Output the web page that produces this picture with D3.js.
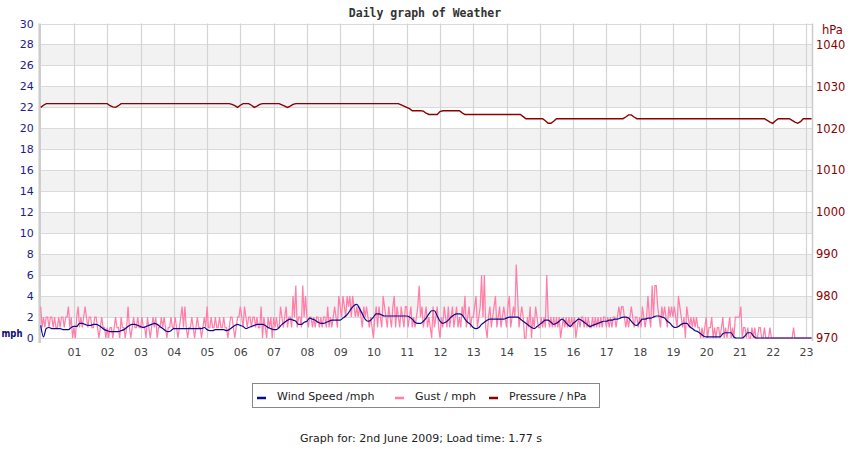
<!DOCTYPE html>
<html>
<head>
<meta charset="utf-8">
<script src="https://cdn.jsdelivr.net/npm/d3@7"></script>
<style>
  body { margin: 0; background: #fff; }
  svg text { font-family: "DejaVu Sans", sans-serif; }
</style>
</head>
<body>
<div id="chart"></div>
<script>
// hour labels along the bottom
const hourLabels = ["01","02","03","04","05","06","07","08","09","10","11","12",
  "13","14","15","16","17","18","19","20","21","22","23"];
const mphTicks = [0, 2, 4, 6, 8, 10, 12, 14, 16, 18, 20, 22, 24, 26, 28, 30];
const hpaTicks = [970, 980, 990, 1000, 1010, 1020, 1030, 1040];
const stepMinutes = 5;      // wind speed + pressure: one reading every 5 min from 00:00
const gustStepMinutes = 2.5; // gusts are logged more often

// wind speed (mph), one row per hour
const windSpeed = [
  1.2,0.1,0.9,1.0,0.9,0.9,0.9,0.9,0.8,0.8,0.8,1.0,
  1.1,1.1,1.4,1.4,1.3,1.2,1.2,1.3,1.3,1.2,1.0,0.8,
  0.7,0.6,0.6,0.6,0.6,0.7,0.8,1.0,1.2,1.3,1.3,1.2,
  1.1,1.0,1.1,1.2,1.3,1.4,1.3,1.1,0.9,0.7,0.6,0.7,
  0.9,0.9,0.9,0.9,0.9,0.9,0.9,0.9,0.9,0.9,0.9,1.0,
  0.8,0.7,0.7,0.8,0.8,0.8,0.8,0.7,0.8,1.0,1.2,1.3,
  1.2,1.1,0.9,1.0,1.1,1.2,1.3,1.3,1.3,1.2,1.0,0.9,
  0.8,0.8,1.0,1.3,1.5,1.7,1.8,1.7,1.6,1.3,1.3,1.5,
  1.6,1.9,1.8,1.7,1.5,1.4,1.4,1.5,1.6,1.7,1.7,1.7,
  1.7,1.9,2.1,2.4,2.8,3.1,3.2,2.8,2.3,1.8,1.6,1.7,
  2.0,2.3,2.3,2.2,2.1,2.1,2.1,2.1,2.1,2.1,2.1,2.1,
  2.1,2.0,1.8,1.5,1.4,1.4,1.6,1.9,2.3,2.6,2.6,2.1,
  1.6,1.4,1.5,1.7,2.0,2.2,2.3,2.3,2.2,1.8,1.5,1.3,
  1.0,0.9,1.0,1.3,1.5,1.7,1.8,1.8,1.8,1.8,1.8,1.8,
  1.9,2.0,2.0,2.0,2.0,1.8,1.6,1.4,1.2,1.0,0.9,1.1,
  1.3,1.5,1.7,1.7,1.5,1.3,1.4,1.6,1.8,1.6,1.3,1.1,
  1.4,1.6,1.8,1.7,1.5,1.3,1.1,1.2,1.3,1.4,1.5,1.6,
  1.6,1.7,1.7,1.8,1.8,1.9,2.0,2.0,1.9,1.6,1.3,1.2,
  1.5,1.8,1.8,1.9,1.9,2.0,2.1,2.1,2.0,1.9,1.6,1.4,
  1.1,1.0,1.1,1.3,1.4,1.4,1.1,0.9,0.7,0.6,0.4,0.2,
  0.1,0.1,0.1,0.1,0.1,0.1,0.4,0.5,0.5,0.5,0.1,0.0,
  0.0,0.0,0.2,0.5,0.5,0.2,0.0,0.0,0.0,0.0,0.0,0.0,
  0.0,0.0,0.0,0.0,0.0,0.0,0.0,0.0,0.0,0.0,0.0,0.0,
  0.0,0.0,0.0
];

// gusts (mph), 24 readings per hour
const gust = [
  3,1,2,1,2,2,1,2,2,1,2,1,1,2,1,2,2,1,2,2,3,1,2,0,
  1,0,2,3,1,2,1,2,3,2,1,2,2,1,1,2,2,1,0,1,2,1,1,0,
  1,0,1,1,0,1,2,1,1,0,2,1,1,0,1,3,1,0,1,2,1,1,2,1,
  1,2,1,1,0,2,1,0,1,2,1,2,0,1,1,2,1,2,1,0,1,1,2,1,
  1,2,1,0,1,2,3,1,3,1,0,1,1,2,1,0,1,2,1,1,0,1,2,1,
  3,1,1,2,1,1,2,1,1,2,1,1,2,1,1,0,1,2,2,1,0,1,2,2,
  3,2,1,3,2,1,2,2,1,2,2,1,2,1,1,3,0,2,1,0,2,1,2,0,
  2,1,2,1,1,3,2,1,2,3,1,2,2,1,4,2,5,1,2,2,1,5,2,4,
  2,1,2,2,1,2,1,2,2,1,2,1,2,2,1,3,1,2,1,2,3,2,1,4,
  3,2,4,3,2,4,3,4,2,4,3,2,3,2,3,2,1,3,2,3,2,1,2,1,
  0,2,3,1,3,2,1,4,3,2,1,3,2,1,3,4,1,3,2,1,3,2,1,3,
  3,1,2,3,1,2,1,2,3,5,2,3,1,2,3,1,2,1,0,3,1,2,3,1,
  0,2,1,3,2,1,3,1,2,3,1,2,3,1,2,1,3,2,4,1,2,3,1,2,
  2,3,4,1,2,3,6,2,6,1,0,2,3,1,2,3,4,1,2,3,1,2,3,2,
  1,3,4,1,2,3,2,7,4,1,2,3,2,0,0,2,1,3,0,2,1,3,2,1,
  1,2,1,2,1,6,2,1,2,1,2,1,2,1,2,0,1,2,1,2,1,2,1,2,
  1,2,0,1,2,1,2,2,1,2,1,2,1,1,2,1,2,1,2,1,2,1,2,2,
  1,2,1,2,1,2,2,1,2,3,2,3,3,2,1,2,1,2,3,2,1,2,2,1,
  2,1,3,2,1,2,4,2,1,5,2,5,5,3,2,1,3,2,3,2,1,3,2,3,
  2,3,2,1,4,3,2,1,2,0,3,2,1,2,1,2,1,2,1,1,0,1,0,1,
  2,0,1,1,2,0,1,0,1,1,0,1,2,0,1,0,1,2,0,1,0,2,2,2,
  2,3,0,1,1,0,1,0,0,1,0,1,0,0,1,1,0,0,1,0,0,0,1,0,
  0,0,0,0,0,0,0,0,0,0,0,0,0,0,0,1,0,0,0,0,0,0,0,0,
  0,0,0,0,0
];

// pressure (hPa)
const pressure = [
  1025.0,1025.5,1025.9,1025.9,1025.9,1025.9,1025.9,1025.9,1025.9,1025.9,1025.9,1025.9,
  1025.9,1025.9,1025.9,1025.9,1025.9,1025.9,1025.9,1025.9,1025.9,1025.9,1025.9,1025.9,
  1025.9,1025.4,1025.1,1025.0,1025.4,1025.9,1025.9,1025.9,1025.9,1025.9,1025.9,1025.9,
  1025.9,1025.9,1025.9,1025.9,1025.9,1025.9,1025.9,1025.9,1025.9,1025.9,1025.9,1025.9,
  1025.9,1025.9,1025.9,1025.9,1025.9,1025.9,1025.9,1025.9,1025.9,1025.9,1025.9,1025.9,
  1025.9,1025.9,1025.9,1025.9,1025.9,1025.9,1025.9,1025.9,1025.9,1025.7,1025.4,1025.0,
  1025.5,1025.9,1025.9,1025.9,1025.5,1025.0,1025.3,1025.7,1025.9,1025.9,1025.9,1025.9,
  1025.9,1025.9,1025.9,1025.6,1025.3,1025.0,1025.3,1025.7,1025.9,1025.9,1025.9,1025.9,
  1025.9,1025.9,1025.9,1025.9,1025.9,1025.9,1025.9,1025.9,1025.9,1025.9,1025.9,1025.9,
  1025.9,1025.9,1025.9,1025.9,1025.9,1025.9,1025.9,1025.9,1025.9,1025.9,1025.9,1025.9,
  1025.9,1025.9,1025.9,1025.9,1025.9,1025.9,1025.9,1025.9,1025.9,1025.9,1025.6,1025.3,
  1025.0,1024.7,1024.2,1024.2,1024.2,1024.2,1024.1,1023.6,1023.3,1023.3,1023.3,1023.3,
  1024.0,1024.2,1024.2,1024.2,1024.2,1024.2,1024.2,1024.2,1023.7,1023.3,1023.3,1023.3,
  1023.3,1023.3,1023.3,1023.3,1023.3,1023.3,1023.3,1023.3,1023.3,1023.3,1023.3,1023.3,
  1023.3,1023.3,1023.3,1023.3,1023.3,1023.3,1022.8,1022.3,1022.3,1022.3,1022.3,1022.3,
  1022.3,1022.3,1021.8,1021.2,1021.2,1021.7,1022.3,1022.3,1022.3,1022.3,1022.3,1022.3,
  1022.3,1022.3,1022.3,1022.3,1022.3,1022.3,1022.3,1022.3,1022.3,1022.3,1022.3,1022.3,
  1022.3,1022.3,1022.3,1022.3,1022.3,1022.3,1022.3,1022.7,1023.2,1023.2,1022.7,1022.3,
  1022.3,1022.3,1022.3,1022.3,1022.3,1022.3,1022.3,1022.3,1022.3,1022.3,1022.3,1022.3,
  1022.3,1022.3,1022.3,1022.3,1022.3,1022.3,1022.3,1022.3,1022.3,1022.3,1022.3,1022.3,
  1022.3,1022.3,1022.3,1022.3,1022.3,1022.3,1022.3,1022.3,1022.3,1022.3,1022.3,1022.3,
  1022.3,1022.3,1022.3,1022.3,1022.3,1022.3,1022.3,1022.3,1022.3,1022.3,1021.9,1021.5,
  1021.2,1021.8,1022.3,1022.3,1022.3,1022.3,1022.3,1021.9,1021.5,1021.2,1021.6,1022.3,
  1022.3,1022.3,1022.3
];

const width = 850, height = 450;
const plot = { left: 40.7, right: 812, top: 23.5, bottom: 338 };

const svg = d3.select("#chart").append("svg")
  .attr("width", width)
  .attr("height", height);

// scales: x in minutes after midnight
const xScale = d3.scaleLinear()
  .domain([0, 23.18 * 60])
  .range([plot.left, plot.right]);

const yMph = d3.scaleLinear().domain([0, 30]).range([plot.bottom, plot.top]);
const yHpa = d3.scaleLinear().domain([970, 1045]).range([plot.bottom, plot.top]);

// shaded bands every other 2 mph step
svg.append("g")
  .selectAll("rect")
  .data(mphTicks.filter((t) => t % 4 === 2 && t < 30))
  .enter()
  .append("rect")
  .attr("x", plot.left)
  .attr("width", plot.right - plot.left)
  .attr("y", (d) => yMph(d + 2))
  .attr("height", (d) => yMph(d) - yMph(d + 2))
  .attr("fill", "#f2f2f2");

// horizontal grid
svg.append("g")
  .selectAll("line")
  .data(mphTicks)
  .enter()
  .append("line")
  .attr("x1", plot.left)
  .attr("x2", plot.right)
  .attr("y1", (d) => Math.round(yMph(d)) + 0.5)
  .attr("y2", (d) => Math.round(yMph(d)) + 0.5)
  .attr("stroke", "#dadada");

// vertical grid, one per hour
svg.append("g")
  .selectAll("line")
  .data(hourLabels)
  .enter()
  .append("line")
  .attr("x1", (d) => Math.round(xScale(+d * 60)) + 0.5)
  .attr("x2", (d) => Math.round(xScale(+d * 60)) + 0.5)
  .attr("y1", plot.top)
  .attr("y2", plot.bottom)
  .attr("stroke", "#d4d4d4")
  .attr("stroke-width", 1.2);

// frame
svg.append("line")
  .attr("x1", plot.left - 1).attr("x2", plot.left - 1)
  .attr("y1", plot.top).attr("y2", plot.bottom + 5)
  .attr("stroke", "#cccccc").attr("stroke-width", 2.5);
svg.append("line")
  .attr("x1", plot.right + 0.5).attr("x2", plot.right + 0.5)
  .attr("y1", plot.top).attr("y2", plot.bottom + 3)
  .attr("stroke", "#cccccc").attr("stroke-width", 1.5);

// gust line
const gustLine = d3.line()
  .x((d, i) => xScale(i * gustStepMinutes))
  .y((d) => yMph(d));
svg.append("path")
  .datum(gust)
  .attr("d", gustLine)
  .attr("fill", "none")
  .attr("stroke", "#ff7fa9")
  .attr("stroke-width", 1.25);

// wind speed line
const windLine = d3.line()
  .curve(d3.curveMonotoneX)
  .x((d, i) => xScale(i * stepMinutes))
  .y((d) => yMph(d));
svg.append("path")
  .datum(windSpeed)
  .attr("d", windLine)
  .attr("fill", "none")
  .attr("stroke", "#0a0a8c")
  .attr("stroke-width", 1.2);

// pressure line
const pressLine = d3.line()
  .x((d, i) => xScale(i * stepMinutes))
  .y((d) => yHpa(d));
svg.append("path")
  .datum(pressure)
  .attr("d", pressLine)
  .attr("fill", "none")
  .attr("stroke", "#8b0000")
  .attr("stroke-width", 1.4);

// axes
const leftAxis = svg.append("g")
  .attr("transform", `translate(${plot.left},0)`)
  .call(d3.axisLeft(yMph).tickValues(mphTicks).tickSize(0).tickPadding(7));
leftAxis.select(".domain").remove();
leftAxis.selectAll("text")
  .attr("fill", "#1c1c8c")
  .style("font-size", "11px");

const rightAxis = svg.append("g")
  .attr("transform", `translate(${plot.right},0)`)
  .call(d3.axisRight(yHpa).tickValues(hpaTicks).tickFormat(d3.format("d"))
    .tickSize(0).tickPadding(4));
rightAxis.select(".domain").remove();
rightAxis.selectAll("text")
  .attr("fill", "#8b0000")
  .style("font-size", "11.5px");

const bottomAxis = svg.append("g")
  .attr("transform", `translate(0,${plot.bottom})`)
  .call(d3.axisBottom(xScale)
    .tickValues(hourLabels.map((h) => +h * 60))
    .tickFormat((d, i) => hourLabels[i])
    .tickSize(0).tickPadding(10));
bottomAxis.select(".domain").remove();
bottomAxis.selectAll("text")
  .attr("fill", "#444")
  .style("font-size", "11px");

// unit labels and title
svg.append("text")
  .attr("x", 1.5).attr("y", 337)
  .attr("fill", "#0a0a70")
  .attr("textLength", 21)
  .attr("lengthAdjust", "spacingAndGlyphs")
  .style("font-size", "10px")
  .style("font-weight", "bold")
  .text("mph");

svg.append("text")
  .attr("x", 822).attr("y", 34)
  .attr("fill", "#8b0000")
  .style("font-size", "11.5px")
  .text("hPa");

svg.append("text")
  .attr("x", 425).attr("y", 17)
  .attr("text-anchor", "middle")
  .attr("fill", "#333")
  .style("font-family", "'DejaVu Sans Mono', monospace")
  .style("font-weight", "bold")
  .style("font-size", "11.5px")
  .text("Daily graph of Weather");

// legend
const legendItems = [
  { name: "Wind Speed /mph", color: "#0a0a8c", x: 257 },
  { name: "Gust / mph", color: "#ff7fa9", x: 395 },
  { name: "Pressure / hPa", color: "#8b0000", x: 489 },
];
const legend = svg.append("g");
legend.append("rect")
  .attr("x", 252.5).attr("y", 383.5)
  .attr("width", 347).attr("height", 24)
  .attr("fill", "#fff")
  .attr("stroke", "#888");
const item = legend.selectAll(".item")
  .data(legendItems)
  .enter()
  .append("g")
  .attr("class", "item");
item.append("line")
  .attr("x1", (d) => d.x).attr("x2", (d) => d.x + 9)
  .attr("y1", 398).attr("y2", 398)
  .attr("stroke", (d) => d.color)
  .attr("stroke-width", 2.5);
item.append("text")
  .attr("x", (d) => d.x + 20).attr("y", 400)
  .attr("fill", "#222")
  .style("font-size", "11px")
  .text((d) => d.name);

svg.append("text")
  .attr("x", 421).attr("y", 442)
  .attr("text-anchor", "middle")
  .attr("fill", "#222")
  .style("font-size", "11px")
  .text("Graph for: 2nd June 2009; Load time: 1.77 s");
</script>
</body>
</html>
